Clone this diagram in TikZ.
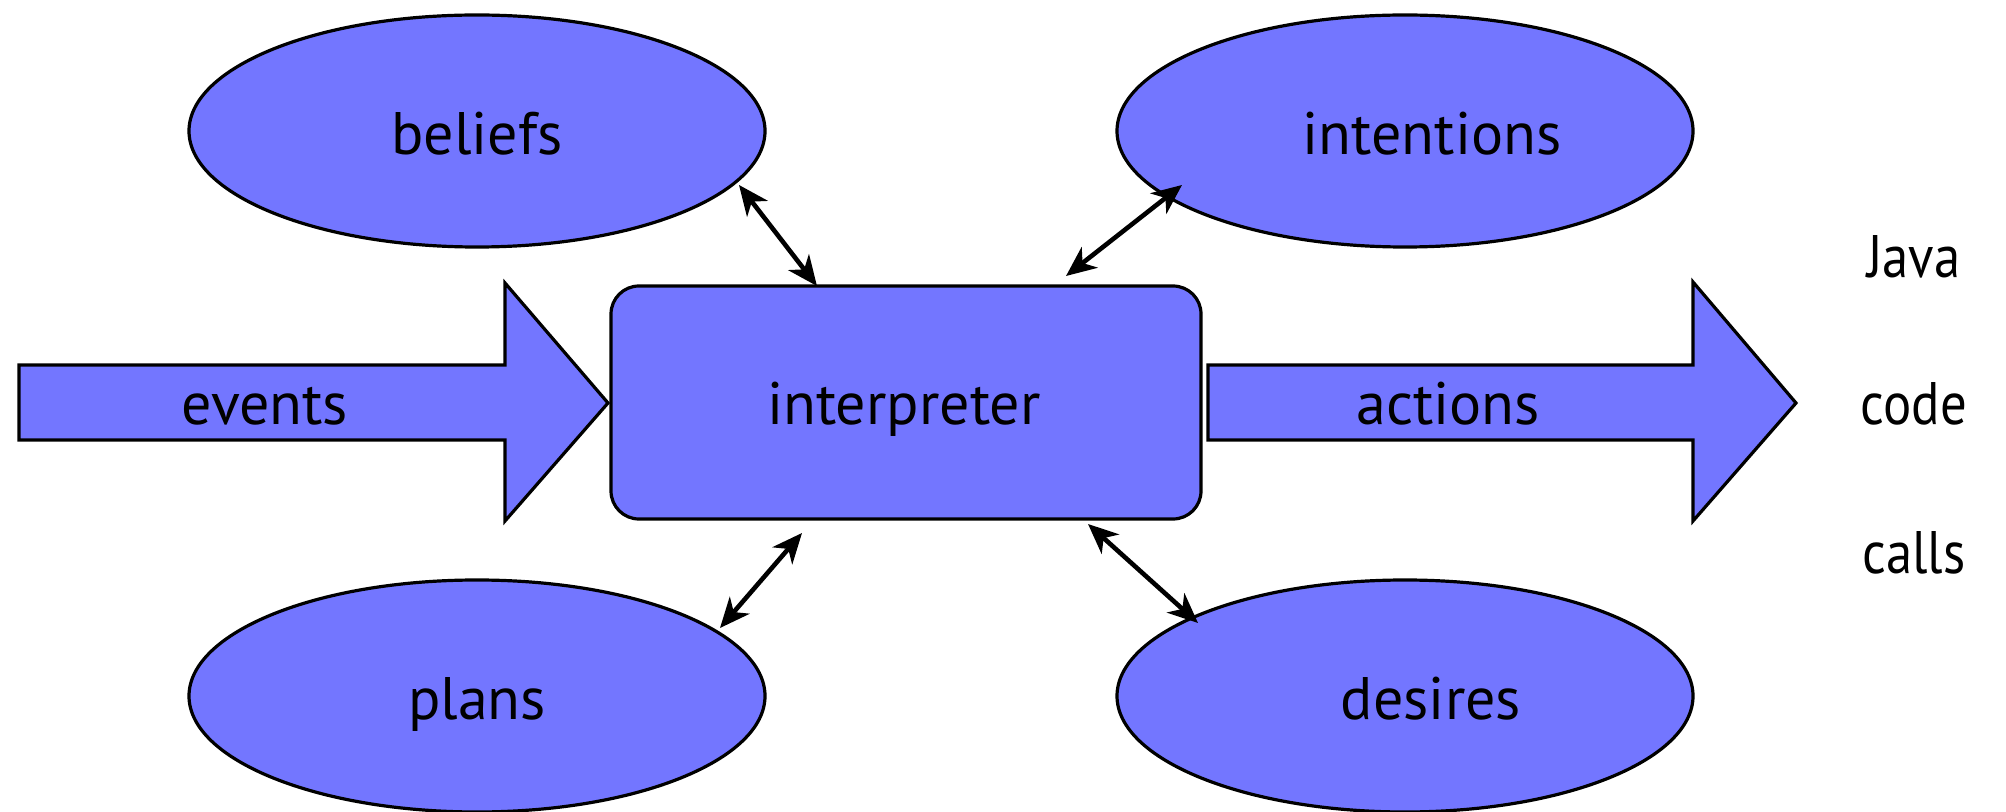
\documentclass[tikz,border=0pt]{standalone}
\usepackage{fontspec}
\setmainfont{PT Sans}
\usetikzlibrary{shapes.geometric,arrows.meta,calc}
\definecolor{bdifill}{RGB}{115,118,255}
\tikzset{
  blob/.style={ellipse,draw=black,fill=bdifill,line width=1.6pt,minimum width=288pt,minimum height=116pt,inner sep=0pt,outer sep=0pt},
  corebox/.style={rectangle,rounded corners=14pt,draw=black,fill=bdifill,line width=1.6pt,minimum width=295pt,minimum height=116.5pt,inner sep=0pt,outer sep=0pt},
  bigarrow/.style={draw=black,fill=bdifill,line width=1.6pt,line join=miter},
  lbl/.style={anchor=base,inner sep=0pt,font=\fontsize{30}{36}\selectfont},
  biarrow/.style={line width=2.3pt,{Stealth[length=15pt,width=13pt,inset=4.5pt]}-{Stealth[length=15pt,width=13pt,inset=4.5pt]}}
}
\begin{document}
\begin{tikzpicture}[x=0.5pt,y=-0.5pt]
\useasboundingbox (0,0) rectangle (2006,812);
% big arrows
\draw[bigarrow] (19,365) -- (505,365) -- (505,283) -- (608,403) -- (505,521) -- (505,440) -- (19,440) -- cycle;
\draw[bigarrow] (1208,365) -- (1693,365) -- (1693,282) -- (1796,403) -- (1693,521) -- (1693,440) -- (1208,440) -- cycle;
% nodes
\node[corebox] (interp) at (906,402.5) {};
\node[blob] (beliefs) at (477,131) {};
\node[blob] (intentions) at (1405,131) {};
\node[blob] (plans) at (477,696) {};
\node[blob] (desires) at (1405,696) {};
% labels
\node[lbl] (tbeliefs) at (477,155) {beliefs};
\node[lbl] (tintentions) at (1432,155) {intentions};
\node[lbl] (tplans) at (477,719) {plans};
\node[lbl] (tdesires) at (1431,719) {desires};
\node[lbl] (tevents) at (265,424) {events};
\node[lbl] (tinterp) at (904,424) {interpreter};
\node[lbl] (tactions) at (1448,424) {actions};
\node[lbl,xscale=0.88] (tjava) at (1914,278) {Java};
\node[lbl,xscale=0.88] (tcode) at (1914,424) {code};
\node[lbl,xscale=0.88] (tcalls) at (1914,573) {calls};
% connectors
\draw[biarrow] ($(beliefs.center)+(262,54)$) -- ($(interp.north west)+(206,0)$);
\draw[biarrow] ($(intentions.center)+(-223,54)$) -- ($(interp.north west)+(455,-10)$);
\draw[biarrow] ($(plans.center)+(243,-68)$) -- ($(interp.south west)+(191,14)$);
\draw[biarrow] ($(desires.center)+(-207,-73)$) -- ($(interp.south west)+(477,5)$);
\end{tikzpicture}
\end{document}
